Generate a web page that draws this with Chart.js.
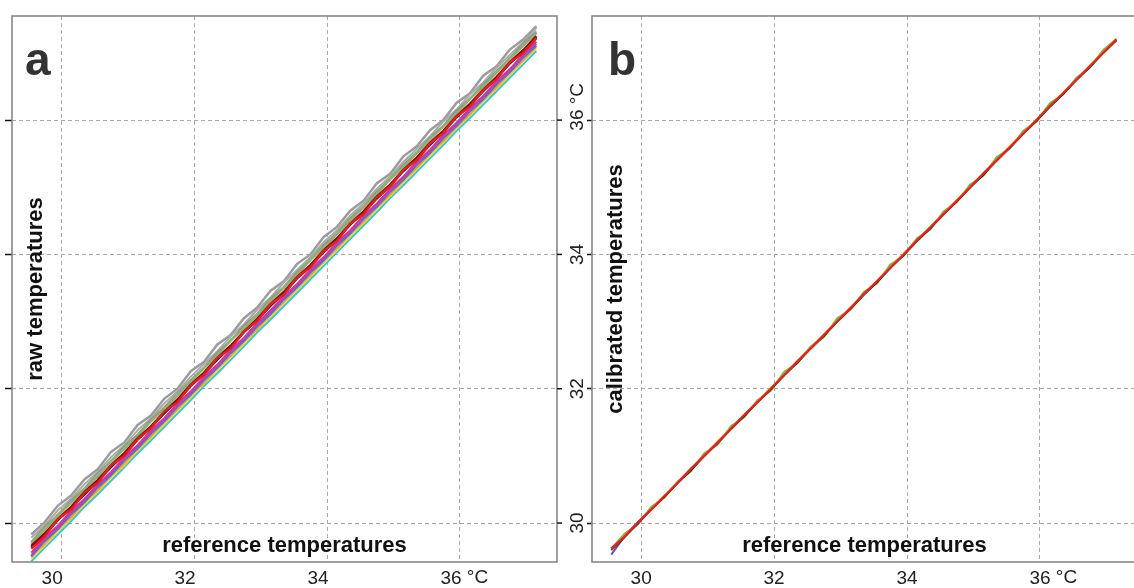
<!DOCTYPE html>
<html lang="en">
  <head>
    <meta charset="UTF-8" />
    <title>Raw and calibrated temperatures</title>
    <script src="https://cdn.jsdelivr.net/npm/chart.js"></script>
    <style>
      html,
      body {
        margin: 0;
        padding: 0;
        background: #fff;
        overflow: hidden;
        width: 1134px;
        height: 588px;
      }

      #panelA {
        position: absolute;
        left: 0;
        top: 0;
      }

      #panelB {
        position: absolute;
        left: 560px;
        top: 0;
      }
    </style>
  </head>
  <body>
    <canvas id="panelA" width="580" height="588"></canvas>
    <canvas id="panelB" width="600" height="588"></canvas>

    <script>
      // tick labels
      const xTicks = [30, 32, 34, 36];
      const yTicks = [30, 32, 34, 36];

      // reference temperatures (x of every line)
      const refTemps = [
        29.55, 29.75, 29.95, 30.15, 30.35, 30.55, 30.75, 30.95, 31.15, 31.35,
        31.55, 31.75, 31.95, 32.15, 32.35, 32.55, 32.75, 32.95, 33.15, 33.35,
        33.55, 33.75, 33.95, 34.15, 34.35, 34.55, 34.75, 34.95, 35.15, 35.35,
        35.55, 35.75, 35.95, 36.15, 36.35, 36.55, 36.75, 36.95, 37.15,
      ];

      // panel a: raw sensor temperatures
      const rawGray1 = [
        29.83, 30.01, 30.26, 30.41, 30.65, 30.80, 31.06, 31.20, 31.46, 31.60,
        31.85, 32.00, 32.26, 32.40, 32.66, 32.80, 33.05, 33.21, 33.46, 33.60,
        33.86, 34.00, 34.26, 34.41, 34.65, 34.80, 35.06, 35.20, 35.46, 35.61,
        35.85, 36.00, 36.26, 36.40, 36.66, 36.80, 37.05, 37.20, 37.40,
      ];
      const rawGray2 = [
        29.78, 29.96, 30.19, 30.36, 30.58, 30.76, 30.98, 31.16, 31.38, 31.56,
        31.78, 31.96, 32.18, 32.37, 32.56, 32.78, 32.96, 33.18, 33.36, 33.58,
        33.77, 33.96, 34.18, 34.36, 34.58, 34.76, 34.98, 35.16, 35.38, 35.57,
        35.76, 35.98, 36.16, 36.38, 36.56, 36.78, 36.97, 37.16, 37.37,
      ];
      const rawGray3 = [
        29.72, 29.94, 30.12, 30.34, 30.52, 30.74, 30.92, 31.14, 31.32, 31.54,
        31.72, 31.93, 32.13, 32.32, 32.54, 32.72, 32.94, 33.12, 33.34, 33.52,
        33.74, 33.92, 34.14, 34.32, 34.54, 34.72, 34.94, 35.12, 35.34, 35.52,
        35.74, 35.92, 36.14, 36.32, 36.53, 36.73, 36.92, 37.14, 37.32,
      ];
      const rawGray4 = [
        29.69, 29.91, 30.09, 30.31, 30.49, 30.71, 30.89, 31.11, 31.29, 31.51,
        31.69, 31.91, 32.09, 32.31, 32.49, 32.71, 32.89, 33.11, 33.29, 33.51,
        33.69, 33.91, 34.09, 34.31, 34.49, 34.71, 34.89, 35.11, 35.29, 35.51,
        35.69, 35.91, 36.09, 36.31, 36.49, 36.71, 36.89, 37.11, 37.29,
      ];
      const rawCyan = [
        29.43, 29.63, 29.83, 30.03, 30.24, 30.43, 30.63, 30.83, 31.04, 31.23,
        31.43, 31.63, 31.83, 32.04, 32.23, 32.43, 32.63, 32.84, 33.03, 33.23,
        33.43, 33.63, 33.83, 34.03, 34.23, 34.43, 34.63, 34.84, 35.03, 35.23,
        35.43, 35.63, 35.84, 36.03, 36.23, 36.43, 36.63, 36.83, 37.03,
      ];
      const rawYellow = [
        29.47, 29.67, 29.88, 30.07, 30.28, 30.47, 30.68, 30.86, 31.08, 31.27,
        31.47, 31.68, 31.87, 32.08, 32.27, 32.48, 32.67, 32.88, 33.07, 33.28,
        33.47, 33.67, 33.88, 34.07, 34.27, 34.47, 34.68, 34.87, 35.07, 35.28,
        35.47, 35.67, 35.88, 36.07, 36.28, 36.47, 36.67, 36.88, 37.07,
      ];
      const rawOrange = [
        29.51, 29.69, 29.91, 30.09, 30.31, 30.49, 30.71, 30.89, 31.11, 31.29,
        31.51, 31.69, 31.91, 32.09, 32.31, 32.49, 32.71, 32.89, 33.11, 33.29,
        33.51, 33.69, 33.91, 34.09, 34.31, 34.49, 34.71, 34.89, 35.11, 35.29,
        35.51, 35.69, 35.91, 36.09, 36.31, 36.49, 36.71, 36.89, 37.10,
      ];
      const rawGreen = [
        29.70, 29.89, 30.13, 30.30, 30.51, 30.69, 30.93, 31.10, 31.30, 31.52,
        31.70, 31.90, 32.12, 32.30, 32.50, 32.73, 32.90, 33.09, 33.32, 33.50,
        33.70, 33.93, 34.10, 34.30, 34.52, 34.70, 34.90, 35.13, 35.30, 35.50,
        35.73, 35.90, 36.10, 36.32, 36.50, 36.70, 36.93, 37.10, 37.30,
      ];
      const rawBlue = [
        29.50, 29.73, 29.91, 30.13, 30.31, 30.53, 30.71, 30.93, 31.11, 31.33,
        31.51, 31.73, 31.91, 32.13, 32.31, 32.53, 32.71, 32.93, 33.11, 33.33,
        33.51, 33.73, 33.91, 34.13, 34.31, 34.53, 34.71, 34.93, 35.11, 35.33,
        35.51, 35.73, 35.91, 36.13, 36.31, 36.53, 36.71, 36.93, 37.11,
      ];
      const rawPurple = [
        29.52, 29.76, 29.93, 30.16, 30.34, 30.56, 30.74, 30.96, 31.14, 31.36,
        31.54, 31.76, 31.94, 32.16, 32.34, 32.56, 32.74, 32.96, 33.14, 33.36,
        33.54, 33.76, 33.94, 34.16, 34.34, 34.56, 34.74, 34.96, 35.14, 35.36,
        35.54, 35.76, 35.94, 36.16, 36.34, 36.56, 36.74, 36.96, 37.14,
      ];
      const rawMagenta = [
        29.56, 29.78, 29.96, 30.18, 30.36, 30.58, 30.76, 30.98, 31.16, 31.38,
        31.56, 31.78, 31.96, 32.18, 32.36, 32.58, 32.76, 32.98, 33.17, 33.38,
        33.56, 33.78, 33.96, 34.18, 34.36, 34.58, 34.76, 34.98, 35.16, 35.38,
        35.56, 35.78, 35.96, 36.18, 36.36, 36.58, 36.76, 36.98, 37.17,
      ];
      const rawBlack = [
        29.64, 29.82, 30.04, 30.23, 30.42, 30.62, 30.83, 31.02, 31.24, 31.42,
        31.63, 31.82, 32.04, 32.22, 32.43, 32.62, 32.84, 33.02, 33.23, 33.42,
        33.64, 33.82, 34.03, 34.22, 34.44, 34.62, 34.83, 35.02, 35.24, 35.42,
        35.63, 35.82, 36.04, 36.22, 36.43, 36.62, 36.84, 37.02, 37.23,
      ];
      const rawDarkRed = [
        29.66, 29.84, 30.06, 30.24, 30.46, 30.64, 30.86, 31.04, 31.26, 31.44,
        31.65, 31.84, 32.06, 32.24, 32.46, 32.64, 32.85, 33.04, 33.26, 33.44,
        33.66, 33.84, 34.06, 34.24, 34.46, 34.64, 34.86, 35.04, 35.26, 35.44,
        35.66, 35.84, 36.06, 36.24, 36.45, 36.64, 36.86, 37.04, 37.25,
      ];
      const rawRed = [
        29.62, 29.80, 30.06, 30.20, 30.45, 30.60, 30.86, 31.00, 31.25, 31.41,
        31.66, 31.80, 32.05, 32.21, 32.46, 32.60, 32.85, 33.01, 33.26, 33.40,
        33.66, 33.81, 34.05, 34.20, 34.46, 34.60, 34.85, 35.01, 35.26, 35.40,
        35.65, 35.81, 36.06, 36.20, 36.45, 36.61, 36.86, 37.00, 37.22,
      ];

      // panel b: calibrated sensor temperatures
      const calGreen = [
        29.62, 29.84, 29.98, 30.24, 30.38, 30.62, 30.77, 31.04, 31.17, 31.44,
        31.58, 31.83, 31.97, 32.25, 32.38, 32.63, 32.77, 33.05, 33.18, 33.44,
        33.57, 33.85, 33.98, 34.24, 34.37, 34.64, 34.78, 35.04, 35.17, 35.45,
        35.58, 35.84, 35.98, 36.25, 36.38, 36.63, 36.78, 37.04, 37.21,
      ];
      const calBlack = [
        29.60, 29.79, 30.00, 30.20, 30.39, 30.60, 30.79, 31.00, 31.19, 31.40,
        31.59, 31.80, 31.99, 32.20, 32.39, 32.60, 32.79, 33.00, 33.19, 33.40,
        33.59, 33.80, 33.99, 34.20, 34.39, 34.60, 34.79, 35.00, 35.19, 35.40,
        35.59, 35.80, 35.99, 36.20, 36.39, 36.60, 36.79, 37.00, 37.19,
      ];
      const calPurple = [
        29.53, 29.80, 29.99, 30.21, 30.40, 30.61, 30.80, 31.01, 31.20, 31.41,
        31.60, 31.81, 32.00, 32.21, 32.40, 32.61, 32.80, 33.01, 33.20, 33.41,
        33.60, 33.81, 34.00, 34.21, 34.40, 34.61, 34.80, 35.01, 35.20, 35.41,
        35.60, 35.81, 36.00, 36.21, 36.40, 36.61, 36.80, 37.01, 37.20,
      ];
      const calOrange = [
        29.61, 29.81, 30.01, 30.21, 30.41, 30.61, 30.81, 31.01, 31.21, 31.41,
        31.61, 31.81, 32.01, 32.21, 32.41, 32.61, 32.81, 33.01, 33.21, 33.41,
        33.61, 33.81, 34.01, 34.21, 34.41, 34.61, 34.81, 35.01, 35.21, 35.41,
        35.61, 35.81, 36.01, 36.21, 36.41, 36.61, 36.81, 37.01, 37.21,
      ];
      const calRed = [
        29.62, 29.80, 30.01, 30.20, 30.40, 30.60, 30.81, 31.00, 31.20, 31.40,
        31.61, 31.80, 32.00, 32.20, 32.41, 32.60, 32.80, 33.00, 33.20, 33.41,
        33.60, 33.80, 34.00, 34.21, 34.40, 34.60, 34.80, 35.00, 35.21, 35.40,
        35.60, 35.80, 36.00, 36.21, 36.40, 36.60, 36.80, 37.00, 37.20,
      ];

      const FONT = "'Liberation Sans', Arial, sans-serif";
      Chart.defaults.font.family = FONT;
      Chart.defaults.color = "#222";

      function toPoints(values) {
        return refTemps.map((x, i) => ({ x: x, y: values[i] }));
      }

      // first dataset ends up on top in Chart.js
      function line(values, color, width) {
        return {
          data: toPoints(values),
          borderColor: color,
          borderWidth: width || 2,
          pointRadius: 0,
          tension: 0,
          fill: false,
        };
      }

      // frame, titles, panel letter and the °C unit
      const framePlugin = {
        id: "frame",
        afterDraw(chart, args, opts) {
          const ctx = chart.ctx;
          const a = chart.chartArea;
          const xs = chart.scales.x;
          const ys = chart.scales.y;
          ctx.save();

          ctx.strokeStyle = "#808080";
          ctx.lineWidth = 1.5;
          ctx.strokeRect(a.left, a.top, a.right - a.left, a.bottom - a.top);

          ctx.fillStyle = "#333";
          ctx.font = "bold 46px " + FONT;
          ctx.textAlign = "left";
          ctx.textBaseline = "alphabetic";
          ctx.fillText(opts.letter, a.left + opts.letterDx, a.top + 59);

          ctx.fillStyle = "#111";
          ctx.font = "bold 22px " + FONT;
          ctx.textAlign = "center";
          ctx.fillText(opts.xTitle, (a.left + a.right) / 2, a.bottom - 10);

          ctx.save();
          ctx.translate(a.left + 30, (a.top + a.bottom) / 2);
          ctx.rotate(-Math.PI / 2);
          ctx.fillText(opts.yTitle, 0, 0);
          ctx.restore();

          // unit after the last x label
          ctx.font = "19px " + FONT;
          ctx.fillStyle = "#222";
          ctx.textBaseline = "middle";
          const last = xTicks[xTicks.length - 1];
          const lx = xs.getPixelForValue(last) + opts.labelOffset;
          const w = ctx.measureText(String(last)).width;
          ctx.textAlign = "left";
          ctx.fillText(" °C", lx + w / 2, a.bottom + 16);

          // rotated y labels (panel b only)
          if (opts.yLabels) {
            ctx.textBaseline = "alphabetic";
            yTicks.forEach((v, i) => {
              const py = ys.getPixelForValue(v);
              ctx.save();
              ctx.translate(a.left - 9, py);
              ctx.rotate(-Math.PI / 2);
              ctx.textAlign = "center";
              ctx.fillText(String(v), 0, 0);
              if (i === yTicks.length - 1) {
                const tw = ctx.measureText(String(v)).width;
                ctx.textAlign = "left";
                ctx.fillText(" °C", tw / 2, 0);
              }
              ctx.restore();
            });
          }

          // small ticks on the right side
          if (opts.rightTicks) {
            ctx.strokeStyle = "#111";
            ctx.lineWidth = 1.5;
            yTicks.forEach((v) => {
              const py = ys.getPixelForValue(v);
              ctx.beginPath();
              ctx.moveTo(a.right, py);
              ctx.lineTo(a.right + 5, py);
              ctx.stroke();
            });
          }
          ctx.restore();
        },
      };

      function makeOptions(cfg) {
        return {
          responsive: false,
          animation: false,
          layout: { padding: { top: 16, right: 23, left: 0, bottom: 0 } },
          plugins: {
            legend: { display: false },
            tooltip: { enabled: false },
            frame: cfg,
          },
          scales: {
            x: {
              type: "linear",
              min: 29.26,
              max: 37.46,
              afterBuildTicks: (s) => {
                s.ticks = xTicks.map((v) => ({ value: v }));
              },
              afterFit: (s) => {
                s.height = 26;
              },
              ticks: {
                font: { size: 19 },
                color: "#222",
                padding: 5,
                labelOffset: cfg.labelOffset,
                maxRotation: 0,
                callback: (v) => String(v),
              },
              grid: {
                color: "#aaaaaa",
                lineWidth: 1,
                drawTicks: false,
              },
              border: { display: false, dash: [4, 3] },
            },
            y: {
              type: "linear",
              min: 29.42,
              max: 37.55,
              afterBuildTicks: (s) => {
                s.ticks = yTicks.map((v) => ({ value: v }));
              },
              afterFit: (s) => {
                s.width = cfg.yAxisWidth;
              },
              ticks: { display: false },
              grid: {
                color: "#aaaaaa",
                lineWidth: 1,
                drawTicks: true,
                tickLength: cfg.tickLength,
                tickColor: "#111",
                tickWidth: 1.5,
                tickBorderDash: [],
              },
              border: { display: false, dash: [4, 3] },
            },
          },
        };
      }

      new Chart(document.getElementById("panelA"), {
        type: "line",
        data: {
          datasets: [
            line(rawRed, "#e0201c", 2.5),
            line(rawDarkRed, "#8b0a0a", 2.5),
            line(rawBlack, "#1a1a1a"),
            line(rawMagenta, "#e0309a"),
            line(rawPurple, "#9a4fc0"),
            line(rawGreen, "#82b86a"),
            line(rawBlue, "#4a6fe0"),
            line(rawOrange, "#ff9a1a"),
            line(rawYellow, "#f2d22a"),
            line(rawCyan, "#2ec8d8"),
            line(rawGray4, "#b2b2b2"),
            line(rawGray3, "#929292"),
            line(rawGray2, "#aaaaaa"),
            line(rawGray1, "#9c9c9c", 2.5),
          ],
        },
        options: makeOptions({
          letter: "a",
          letterDx: 13,
          xTitle: "reference temperatures",
          yTitle: "raw temperatures",
          labelOffset: -9,
          yAxisWidth: 12,
          tickLength: 7,
          yLabels: false,
          rightTicks: true,
        }),
        plugins: [framePlugin],
      });

      new Chart(document.getElementById("panelB"), {
        type: "line",
        data: {
          datasets: [
            line(calRed, "#e3221c", 2.2),
            line(calOrange, "#ff9a1a"),
            line(calBlack, "#1a1a1a"),
            line(calPurple, "#6a4fc0"),
            line(calGreen, "#6cbf46"),
          ],
        },
        options: makeOptions({
          letter: "b",
          letterDx: 16,
          xTitle: "reference temperatures",
          yTitle: "calibrated temperatures",
          labelOffset: 0,
          yAxisWidth: 32,
          tickLength: 5,
          yLabels: true,
          rightTicks: false,
        }),
        plugins: [framePlugin],
      });
    </script>
  </body>
</html>
